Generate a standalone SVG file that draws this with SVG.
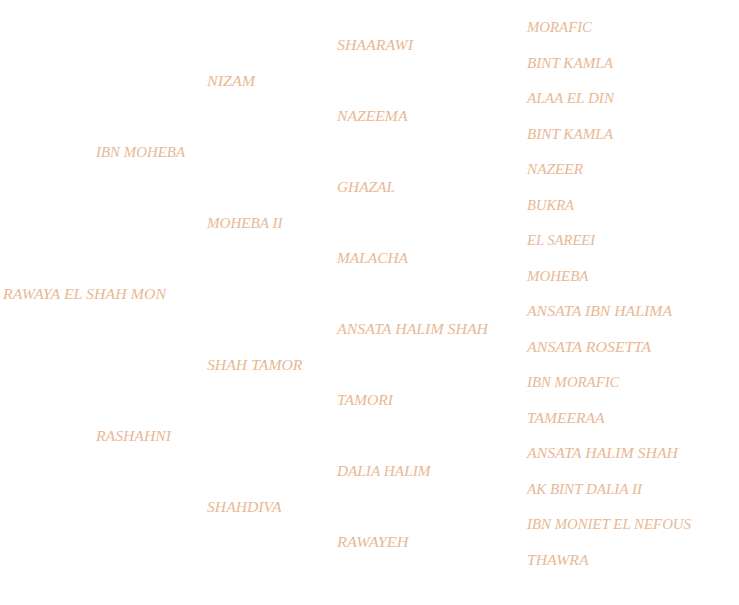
<svg xmlns="http://www.w3.org/2000/svg" width="739" height="605" viewBox="0 0 739 605">
<style>
text{font-family:"Liberation Serif","Times New Roman",serif;font-style:italic;font-size:14px;fill:#e8b894}
</style>
<rect width="739" height="605" fill="#ffffff"/>
<g id="connectors"></g>
<g id="n0"><text x="3" y="299" textLength="163" lengthAdjust="spacingAndGlyphs">RAWAYA EL SHAH MON</text></g>
<g id="n1"><text x="96" y="157" textLength="89" lengthAdjust="spacingAndGlyphs">IBN MOHEBA</text></g>
<g id="n2"><text x="96" y="441" textLength="75" lengthAdjust="spacingAndGlyphs">RASHAHNI</text></g>
<g id="n3"><text x="207" y="86" textLength="48" lengthAdjust="spacingAndGlyphs">NIZAM</text></g>
<g id="n4"><text x="207" y="228" textLength="75.5" lengthAdjust="spacingAndGlyphs">MOHEBA II</text></g>
<g id="n5"><text x="207" y="370" textLength="95.5" lengthAdjust="spacingAndGlyphs">SHAH TAMOR</text></g>
<g id="n6"><text x="207" y="512" textLength="74.5" lengthAdjust="spacingAndGlyphs">SHAHDIVA</text></g>
<g id="n7"><text x="337" y="50" textLength="76" lengthAdjust="spacingAndGlyphs">SHAARAWI</text></g>
<g id="n8"><text x="337" y="121" textLength="70.5" lengthAdjust="spacingAndGlyphs">NAZEEMA</text></g>
<g id="n9"><text x="337" y="192" textLength="58" lengthAdjust="spacingAndGlyphs">GHAZAL</text></g>
<g id="n10"><text x="337" y="263" textLength="71" lengthAdjust="spacingAndGlyphs">MALACHA</text></g>
<g id="n11"><text x="337" y="334" textLength="151" lengthAdjust="spacingAndGlyphs">ANSATA HALIM SHAH</text></g>
<g id="n12"><text x="337" y="405" textLength="56" lengthAdjust="spacingAndGlyphs">TAMORI</text></g>
<g id="n13"><text x="337" y="476" textLength="93.5" lengthAdjust="spacingAndGlyphs">DALIA HALIM</text></g>
<g id="n14"><text x="337" y="547" textLength="71.5" lengthAdjust="spacingAndGlyphs">RAWAYEH</text></g>
<g id="n15"><text x="527" y="32" textLength="65" lengthAdjust="spacingAndGlyphs">MORAFIC</text></g>
<g id="n16"><text x="527" y="68" textLength="86" lengthAdjust="spacingAndGlyphs">BINT KAMLA</text></g>
<g id="n17"><text x="527" y="103" textLength="87" lengthAdjust="spacingAndGlyphs">ALAA EL DIN</text></g>
<g id="n18"><text x="527" y="139" textLength="86" lengthAdjust="spacingAndGlyphs">BINT KAMLA</text></g>
<g id="n19"><text x="527" y="174" textLength="56" lengthAdjust="spacingAndGlyphs">NAZEER</text></g>
<g id="n20"><text x="527" y="210" textLength="47" lengthAdjust="spacingAndGlyphs">BUKRA</text></g>
<g id="n21"><text x="527" y="245" textLength="68" lengthAdjust="spacingAndGlyphs">EL SAREEI</text></g>
<g id="n22"><text x="527" y="281" textLength="61.5" lengthAdjust="spacingAndGlyphs">MOHEBA</text></g>
<g id="n23"><text x="527" y="316" textLength="145" lengthAdjust="spacingAndGlyphs">ANSATA IBN HALIMA</text></g>
<g id="n24"><text x="527" y="352" textLength="124" lengthAdjust="spacingAndGlyphs">ANSATA ROSETTA</text></g>
<g id="n25"><text x="527" y="387" textLength="92.5" lengthAdjust="spacingAndGlyphs">IBN MORAFIC</text></g>
<g id="n26"><text x="527" y="423" textLength="77.5" lengthAdjust="spacingAndGlyphs">TAMEERAA</text></g>
<g id="n27"><text x="527" y="458" textLength="151" lengthAdjust="spacingAndGlyphs">ANSATA HALIM SHAH</text></g>
<g id="n28"><text x="527" y="494" textLength="115" lengthAdjust="spacingAndGlyphs">AK BINT DALIA II</text></g>
<g id="n29"><text x="527" y="529" textLength="164" lengthAdjust="spacingAndGlyphs">IBN MONIET EL NEFOUS</text></g>
<g id="n30"><text x="527" y="565" textLength="61.5" lengthAdjust="spacingAndGlyphs">THAWRA</text></g>
</svg>
